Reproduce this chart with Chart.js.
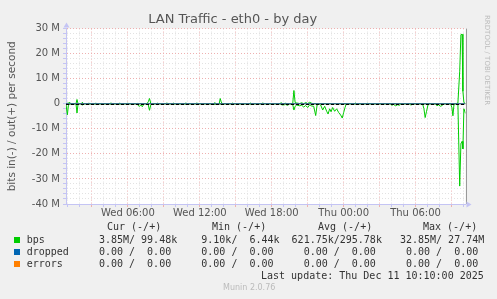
<!DOCTYPE html>
<html>
<head>
<meta charset="utf-8">
<title>LAN Traffic - eth0 - by day</title>
<script src="https://cdn.jsdelivr.net/npm/chart.js"></script>
<style>
  body { margin: 0; background: #f0f0f0; }
  #wrap { position: relative; width: 497px; height: 299px; overflow: hidden; }
  #chart { position: absolute; left: 0; top: 0; }
  .mono { position: absolute; font-family: "DejaVu Sans Mono", monospace; font-size: 10px; line-height: 12px; color: #333; white-space: pre; }
  .sq { position: absolute; width: 6px; height: 6px; }
  #rrd { position: absolute; left: 483px; top: 15px; font-family: "DejaVu Sans", sans-serif; font-size: 7px; color: #bbb; writing-mode: vertical-rl; }
  #munin { position: absolute; left: 223px; top: 283px; font-family: "DejaVu Sans", sans-serif; font-size: 8px; color: #bbb; }
</style>
</head>
<body>
<div id="wrap">
  <canvas id="chart" width="497" height="299"></canvas>
  <div id="rrd">RRDTOOL / TOBI OETIKER</div>
  <div id="legend"></div>
  <div id="munin">Munin 2.0.76</div>
</div>
<script>
// minutes since Wed 00:00 (window is Wed 00:50 .. Thu 10:10)
const timeMinutes = [
  50, 57, 62, 70, 75, 100, 105, 110, 115, 127, 132, 137,
  160, 165, 170, 195, 200, 205, 225, 230, 235, 270, 275, 280,
  315, 320, 325, 355, 360, 365, 405, 410, 417, 425, 432, 440,
  455, 462, 468, 475, 480, 505, 510, 515, 550, 555, 560,
  585, 590, 595, 645, 650, 655, 700, 705, 710, 790, 795, 800,
  817, 822, 827, 832, 880, 885, 890, 970, 975, 980, 1030, 1035, 1040,
  1120, 1127, 1135, 1150, 1160, 1170, 1185, 1191, 1197, 1205, 1220,
  1230, 1240, 1250, 1260, 1270, 1280, 1290, 1300, 1307, 1315, 1325,
  1335, 1345, 1355, 1362, 1370, 1377, 1385, 1395, 1405, 1415, 1425,
  1433, 1440, 1447, 1453, 1495, 1500, 1505, 1555, 1560, 1565,
  1675, 1680, 1690, 1700, 1710, 1720, 1725, 1770, 1777, 1782,
  1835, 1842, 1848, 1855, 1862, 1870, 1900, 1907, 1915, 1925, 1935, 1942,
  1975, 1982, 1987, 1992, 2000, 2012, 2021, 2027, 2033, 2037, 2042, 2050
];
// out (+), in Mbit/s
const outMbps = [
  0, 0.2, 0.3, 0.5, 0, 0, 1.7, 0.1, 0, 0, 0.6, 0,
  0, 0.3, 0, 0, 0.3, 0, 0, 0.2, 0, 0, 0.4, 0,
  0, 0.3, 0, 0, 0.3, 0, 0, 0.2, 0, 0.1, 0, 0,
  0, 0.8, 2.1, 0, 0, 0, 0.3, 0, 0, 0.4, 0,
  0, 0.3, 0, 0, 0.4, 0, 0, 0.4, 0, 0, 0.5, 0,
  0, 2.1, 0.8, 0, 0, 0.3, 0, 0, 0.3, 0, 0, 0.4, 0,
  0, 0.4, 0, 0.2, 0, 0, 0, 5.3, 0.5, 0.3, 0.1,
  0.4, 0, 0.5, 0.1, 0.6, 0.2, 0, 0, 0, 0, 0,
  0, 0, 0, 0, 0, 0, 0, 0, 0, 0, 0,
  0, 0, 0, 0, 0, 0.3, 0, 0, 0.2, 0,
  0, 0, 0, 0, 0, 0, 0, 0, 0, 0,
  0, 0, 0, 0, 0, 0, 0, 0, 0, 0, 0, 0,
  0, 0, 0, 0, 0, 0.3, 13, 27.6, 27.74, 5, 0.5, 0.1
];
const inMbps = [
  -0.3, -4.4, -0.6, -0.2, 0, 0, -3.7, -0.3, 0, 0, -0.6, 0,
  0, -0.4, 0, 0, -0.3, 0, 0, -0.4, 0, 0, -0.4, 0,
  0, -0.3, 0, 0, -0.3, 0, 0, -0.6, -1.0, -0.5, -1.2, 0,
  0, -0.5, -2.6, -0.3, 0, 0, -0.3, 0, 0, -0.4, 0,
  0, -0.3, 0, 0, -0.4, 0, 0, -0.5, 0, 0, -0.5, 0,
  0, -0.2, 0, 0, 0, -0.3, 0, 0, -0.3, 0, 0, -0.4, 0,
  0, -0.3, -0.5, -0.3, -0.6, 0, -0.3, -2.5, -1.0, -0.5, -0.8,
  -0.6, -1.3, -0.7, -1.5, -0.4, -0.9, -1.0, -4.7, -0.5, 0, -0.5,
  -2.5, -1.0, -3.0, -4.1, -2.0, -3.2, -1.5, -3.0, -2.0, -3.5, -4.5,
  -5.7, -3.5, -1.5, 0, 0, -0.3, 0, 0, -0.4, 0,
  0, -0.6, -0.3, -0.8, -0.4, -0.6, 0, 0, -0.6, 0,
  0, -2.0, -5.5, -3.0, -0.5, 0, 0, -0.8, -0.4, -1.0, -0.6, 0,
  0, -1.5, -4.8, -0.5, 0, -0.3, -32.85, -16, -15, -18, -2, -3.85
];

const timeTickMinutes = [360, 720, 1080, 1440, 1800];
const timeTickLabels = ['Wed 06:00', 'Wed 12:00', 'Wed 18:00', 'Thu 00:00', 'Thu 06:00'];

const legendNames = ['bps', 'dropped', 'errors'];
const curValues = ['3.85M/ 99.48k', '0.00 /  0.00', '0.00 /  0.00'];
const minValues = ['9.10k/  6.44k', '0.00 /  0.00', '0.00 /  0.00'];
const avgValues = ['621.75k/295.78k', '  0.00 /  0.00', '  0.00 /  0.00'];
const maxValues = ['32.85M/ 27.74M', ' 0.00 /  0.00', ' 0.00 /  0.00'];
const lastUpdate = 'Last update: Thu Dec 11 10:10:00 2025';

const colors = { bps: '#00cc00', dropped: '#0066b3', errors: '#ff8000' };
const gridMinor = '#e2e2e2';
const gridMajor = '#eeb0b0';
const axisColor = '#c4c4f4';

// legend table
const legend = document.getElementById('legend');
function addText(text, left, top) {
  const d = document.createElement('div');
  d.className = 'mono';
  d.style.left = left + 'px';
  d.style.top = top + 'px';
  d.textContent = text;
  legend.appendChild(d);
}
addText('Cur (-/+)', 107, 221);
addText('Min (-/+)', 212, 221);
addText('Avg (-/+)', 318, 221);
addText('Max (-/+)', 423, 221);
legendNames.forEach((name, i) => {
  const top = 233.5 + i * 12.2;
  const sq = document.createElement('div');
  sq.className = 'sq';
  sq.style.left = '14px';
  sq.style.top = (top + 3.5) + 'px';
  sq.style.background = colors[name];
  legend.appendChild(sq);
  const row = name.padEnd(12) + curValues[i].padEnd(17) + minValues[i].padEnd(15) + avgValues[i].padEnd(18) + maxValues[i];
  addText(row, 26.7, top);
});
addText(lastUpdate, 261, 270);

const flat = [{ x: 50, y: 0 }, { x: 2050, y: 0 }];

const muninDecor = {
  id: 'muninDecor',
  beforeDraw(chart) {
    const { ctx, chartArea: a } = chart;
    ctx.save();
    ctx.fillStyle = '#ffffff';
    ctx.fillRect(a.left, a.top, a.right - a.left, a.bottom - a.top);
    ctx.restore();
  },
  afterDatasetsDraw(chart) {
    const { ctx, chartArea: a } = chart;
    const y0 = Math.round(chart.scales.y.getPixelForValue(0)) + 0.5;
    ctx.save();
    ctx.strokeStyle = '#000';
    ctx.lineWidth = 1;
    ctx.setLineDash([3, 2]);
    ctx.beginPath();
    ctx.moveTo(a.left, y0);
    ctx.lineTo(a.right, y0);
    ctx.stroke();
    ctx.restore();
  },
  afterDraw(chart) {
    const { ctx, chartArea: a } = chart;
    ctx.save();
    // right edge
    ctx.strokeStyle = '#999';
    ctx.lineWidth = 1;
    ctx.beginPath();
    ctx.moveTo(Math.round(a.right) + 0.5, a.top);
    ctx.lineTo(Math.round(a.right) + 0.5, a.bottom);
    ctx.stroke();
    // axis arrows
    ctx.fillStyle = axisColor;
    const lx = Math.round(a.left) + 0.5;
    ctx.beginPath();
    ctx.moveTo(lx - 3, a.top - 1);
    ctx.lineTo(lx + 3, a.top - 1);
    ctx.lineTo(lx, a.top - 6);
    ctx.fill();
    const by = Math.round(a.bottom) + 0.5;
    ctx.beginPath();
    ctx.moveTo(a.right + 1, by - 3);
    ctx.lineTo(a.right + 1, by + 3);
    ctx.lineTo(a.right + 6, by);
    ctx.fill();
    ctx.restore();
  }
};

new Chart(document.getElementById('chart'), {
  type: 'line',
  data: {
    datasets: [
      { label: 'dropped', data: flat, borderColor: colors.dropped, borderWidth: 1, pointRadius: 0 },
      { label: 'errors', data: flat, borderColor: colors.errors, borderWidth: 1, pointRadius: 0 },
      { label: 'bps out', data: timeMinutes.map((t, i) => ({ x: t, y: outMbps[i] })), borderColor: colors.bps, borderWidth: 1, pointRadius: 0 },
      { label: 'bps in', data: timeMinutes.map((t, i) => ({ x: t, y: inMbps[i] })), borderColor: colors.bps, borderWidth: 1, pointRadius: 0 }
    ]
  },
  options: {
    responsive: false,
    animation: false,
    devicePixelRatio: 1,
    layout: { padding: { left: 0, right: 31.5, top: 0, bottom: 75 } },
    plugins: {
      legend: { display: false },
      tooltip: { enabled: false },
      title: {
        display: true,
        text: 'LAN Traffic - eth0 - by day',
        color: '#555',
        font: { family: 'DejaVu Sans', size: 13, weight: 'normal' },
        padding: { top: 12, bottom: 1 }
      }
    },
    scales: {
      x: {
        type: 'linear',
        min: 50,
        max: 2050,
        afterFit: s => { s.height = 20; },
        afterBuildTicks: s => {
          const t = [];
          for (let m = 60; m < 2050; m += 60) t.push({ value: m });
          s.ticks = t;
        },
        ticks: {
          autoSkip: false,
          maxRotation: 0,
          padding: 0,
          color: '#555',
          font: { family: 'DejaVu Sans', size: 10 },
          callback: v => {
            const i = timeTickMinutes.indexOf(v);
            return i >= 0 ? timeTickLabels[i] : '';
          }
        },
        grid: {
          color: c => (c.tick && c.tick.value % 180 === 0 ? gridMajor : gridMinor),
          tickColor: c => (c.tick && c.tick.value % 180 === 0 ? gridMajor : axisColor),
          tickLength: 3
        },
        border: { color: axisColor, dash: [1, 2] }
      },
      y: {
        min: -40,
        max: 30,
        afterFit: s => { s.width = 66; },
        afterBuildTicks: s => {
          const t = [];
          for (let v = -40; v <= 30; v += 2) t.push({ value: v });
          s.ticks = t;
        },
        ticks: {
          autoSkip: false,
          padding: 3,
          color: '#555',
          font: { family: 'DejaVu Sans', size: 10 },
          callback: v => (v % 10 === 0 ? (v === 0 ? '0' : v + ' M') : '')
        },
        title: {
          display: true,
          text: 'bits in(-) / out(+) per second',
          color: '#555',
          font: { family: 'DejaVu Sans', size: 10.5 },
          padding: { top: 6, bottom: 0 }
        },
        grid: {
          color: c => (c.tick && c.tick.value % 10 === 0 ? gridMajor : gridMinor),
          tickColor: axisColor,
          tickLength: 3
        },
        border: { color: axisColor, dash: [1, 2] }
      }
    }
  },
  plugins: [muninDecor]
});
</script>
</body>
</html>
